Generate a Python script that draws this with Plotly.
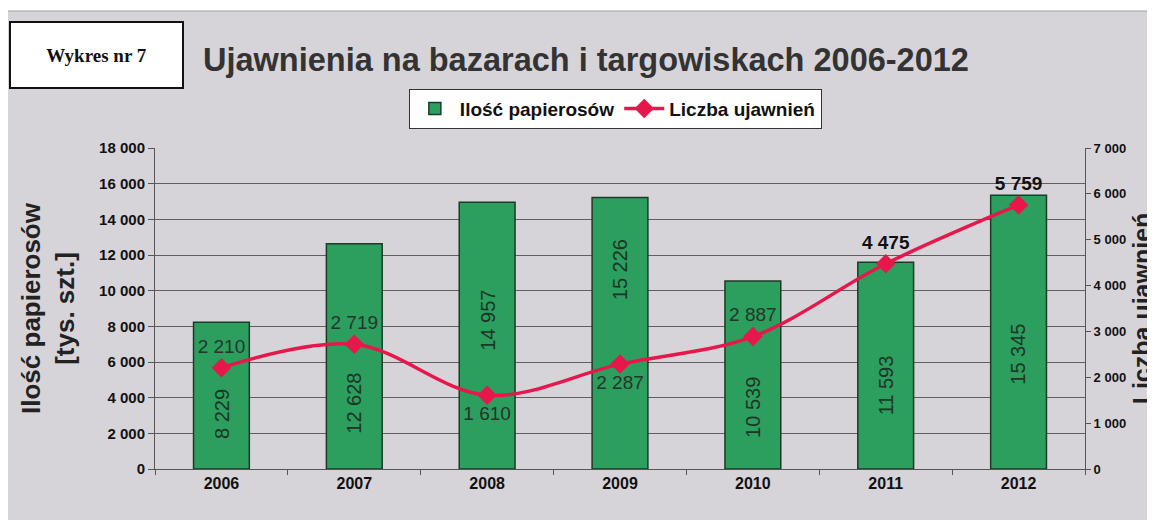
import plotly.graph_objects as go

years = ["2006", "2007", "2008", "2009", "2010", "2011", "2012"]
cigarettes = [8229, 12628, 14957, 15226, 10539, 11593, 15345]
cases = [2210, 2719, 1610, 2287, 2887, 4475, 5759]
case_label_pos = ["top center", "top center", "bottom center", "bottom center",
                  "top center", "top center", "top center"]
case_label_weight = ["normal", "normal", "normal", "normal", "normal", "bold", "bold"]
case_label_color = ["#24352b", "#24352b", "#24352b", "#24352b", "#24352b",
                    "#111111", "#111111"]
# pixel shift of the in-bar labels from the bar middle (style only)
bar_label_shift = [-18, -47, 15, 63, -32, -20, -22]

def fmt(v):
    return f"{v:,}".replace(",", " ")

GRAY = "#d7d4d9"
FONT = "Liberation Sans, Arial, sans-serif"
W, H = 1155, 520
OFF = 8  # page body margin

fig = go.Figure()
fig.add_trace(go.Bar(
    x=years, y=cigarettes, name="Ilość papierosów",
    marker=dict(color="#2c9e5d", line=dict(color="#1d3a28", width=1.5)),
    width=0.42,
    yaxis="y",
))
fig.add_trace(go.Scatter(
    x=years, y=cases, name="Liczba ujawnień", yaxis="y2",
    mode="lines+markers+text",
    line=dict(color="#e8174b", width=3.5, shape="spline", smoothing=1.0),
    marker=dict(symbol="diamond", size=15, color="#e8174b"),
    text=[fmt(v) for v in cases], textposition=case_label_pos,
    textfont=dict(family=FONT, size=19, color=case_label_color,
                  weight=case_label_weight),
    cliponaxis=False,
))

for i, (v, sh) in enumerate(zip(cigarettes, bar_label_shift)):
    fig.add_annotation(x=i, y=v / 2, xref="x", yref="y", text=fmt(v),
                       textangle=-90, showarrow=False, yshift=sh,
                       font=dict(family=FONT, size=20, color="#1c3526"))

fig.update_layout(
    width=W, height=H,
    margin=dict(l=155 - OFF, r=W - (1085 - OFF), t=148 - OFF, b=H - (469 - OFF),
                autoexpand=False),
    paper_bgcolor="white", plot_bgcolor="rgba(0,0,0,0)",
    separators=", ",
    font=dict(family=FONT, color="#222"),
    title=dict(text="<b>Ujawnienia na bazarach i targowiskach 2006-2012</b>",
               xref="container", yref="container", x=(203 - OFF) / W, xanchor="left",
               y=1 - (60 - OFF) / H, yanchor="middle",
               font=dict(family=FONT, size=32.5, color="#333333")),
    showlegend=True,
    legend=dict(orientation="h", x=0.495, xanchor="center", y=1.185, yanchor="top",
                bgcolor="white", bordercolor="#333", borderwidth=1,
                font=dict(family=FONT, size=19, color="#111", weight="bold"),
                itemwidth=40, tracegroupgap=0),
    xaxis=dict(type="category", range=[-0.5, 6.5], showline=True, linecolor="#555",
               linewidth=1, ticks="outside", tickson="boundaries", ticklen=5,
               tickcolor="#555",
               tickfont=dict(family=FONT, size=16, color="#111", weight="bold"),
               showgrid=False, automargin=False),
    yaxis=dict(range=[0, 18000], dtick=2000, tickformat=",d",
               showline=True, linecolor="#555", linewidth=1,
               ticks="outside", ticklen=6, tickcolor="#555",
               showgrid=True, gridcolor="#5f5f5f", gridwidth=1,
               zeroline=False, automargin=False,
               tickfont=dict(family=FONT, size=15, color="#111", weight="bold"),
               title=dict(text="<b>Ilość papierosów<br>[tys. szt.]</b>",
                          font=dict(family=FONT, size=26, color="#222"),
                          standoff=17)),
    yaxis2=dict(range=[0, 7000], dtick=1000, tickformat=",d", overlaying="y",
                side="right", showline=True, linecolor="#555", linewidth=1,
                ticks="outside", ticklen=5, tickcolor="#555", showgrid=False,
                zeroline=False, automargin=False,
                tickfont=dict(family=FONT, size=13, color="#111", weight="bold"),
                title=dict(text="<b>Liczba ujawnień</b>",
                           font=dict(family=FONT, size=25, color="#222"),
                           standoff=8)),
)

# gray chart background
fig.add_shape(type="rect", xref="paper", yref="paper", layer="below",
              x0=(7-155)/930, x1=(1170-155)/930, y0=(469-535)/321, y1=(469-11)/321,
              fillcolor=GRAY, line=dict(color="#9a9a9a", width=1))

# "Wykres nr 7" box
fig.add_annotation(text="<b>Wykres nr 7</b>", xref="paper", yref="paper",
                   x=(96.5-155)/930, y=(469-55)/321, xanchor="center", yanchor="middle",
                   showarrow=False, bgcolor="white", bordercolor="#111", borderwidth=2,
                   width=169, height=62,
                   font=dict(family="Liberation Serif, Times New Roman, serif",
                             size=19, color="#111"))

fig.write_html("out.html")
